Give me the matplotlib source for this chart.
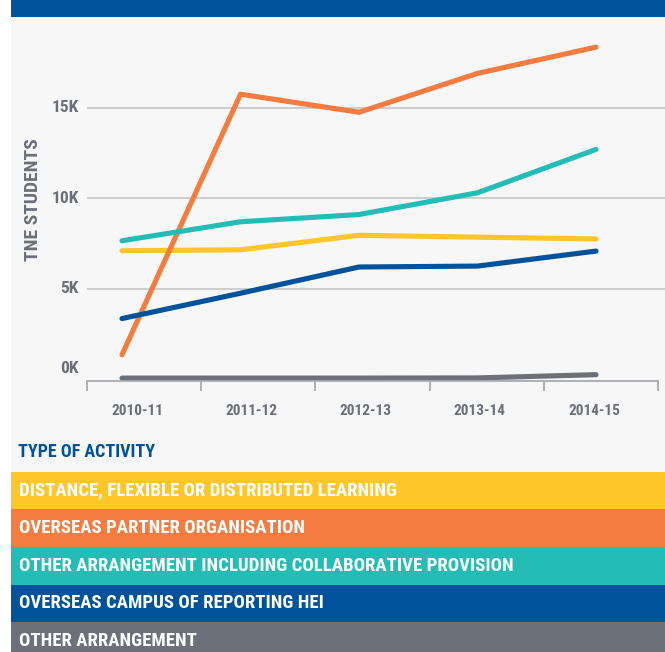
import matplotlib
matplotlib.use("Agg")
import matplotlib.pyplot as plt
import matplotlib.transforms as mtransforms
from matplotlib import font_manager
from matplotlib.patches import Rectangle

# --- data ---
years = ["2010-11", "2011-12", "2012-13", "2013-14", "2014-15"]
series_names = [
    "DISTANCE, FLEXIBLE OR DISTRIBUTED LEARNING",
    "OVERSEAS PARTNER ORGANISATION",
    "OTHER ARRANGEMENT INCLUDING COLLABORATIVE PROVISION",
    "OVERSEAS CAMPUS OF REPORTING HEI",
    "OTHER ARRANGEMENT",
]
distance = [7100, 7150, 7950, 7850, 7750]
partner = [1350, 15750, 14750, 16900, 18350]
collaborative = [7650, 8700, 9100, 10300, 12700]
campus = [3350, 4750, 6200, 6250, 7080]
other = [60, 60, 60, 70, 250]
series_values = [distance, partner, collaborative, campus, other]
colors = ["#fec62b", "#f47c40", "#24bdb6", "#00539b", "#6b7079"]
y_ticks = [0, 5000, 10000, 15000]
y_tick_labels = ["0K", "5K", "10K", "15K"]
y_title = "TNE STUDENTS"
legend_title = "TYPE OF ACTIVITY"

# pick a condensed bold face if one is installed
names = {f.name for f in font_manager.fontManager.ttflist}
font = "DejaVu Sans"
for cand in ["Roboto Condensed", "Liberation Sans Narrow", "Noto Sans Condensed",
             "DejaVu Sans Condensed", "Open Sans Condensed", "Noto Sans ExtraCondensed"]:
    if cand in names:
        font = cand
        break
plt.rcParams["font.family"] = [font, "DejaVu Sans"]

W, H = 665, 652
fig = plt.figure(figsize=(W / 100, H / 100), dpi=100)
fig.patch.set_facecolor("white")

# full-figure layer in pixel coords for background, banner and legend
bg = fig.add_axes([0, 0, 1, 1], zorder=0)
bg.set_xlim(0, W)
bg.set_ylim(H, 0)
bg.axis("off")
bg.add_patch(Rectangle((11, 0), W - 11, H, color="#f7f7f7", lw=0))
bg.add_patch(Rectangle((11, 0), W - 11, 17, color="#00529b", lw=0))

grey_txt = "#6b6f78"

# --- chart ---
ax = fig.add_axes([87 / W, 1 - 381 / H, 1 - 87 / W, (381 - 20) / H], zorder=1)
ax.patch.set_visible(False)
step = 118.5
ax.set_xlim(-(122 - 87) / step, 4 + (W - 596) / step)
ax.set_ylim(-100, 19850)

x = list(range(len(years)))
for vals, c in zip(series_values, colors):
    ax.plot(x, vals, color=c, lw=3.7, solid_capstyle="round", solid_joinstyle="round")

for t in y_ticks[1:]:
    ax.axhline(t, color="#c4c6c9", lw=1.2, zorder=0)

for s in ["top", "right", "left"]:
    ax.spines[s].set_visible(False)
ax.spines["bottom"].set_color("#a8aaad")
ax.spines["bottom"].set_linewidth(1.3)
x0 = -(122 - 87) / step
bw = 114.2 / step
ax.spines["bottom"].set_bounds(x0, x0 + 5 * bw)

ax.set_xticks([x0 + i * bw for i in range(6)])
ax.set_xticklabels([])
ax.tick_params(axis="x", length=7, width=1.3, color="#a8aaad")
for i, lab in enumerate(years):
    ax.text(x0 + (i + 0.44) * bw, -1750, lab, ha="center", va="center",
            fontsize=11, fontweight="bold", color=grey_txt)

ax.set_yticks([])
ytrans = mtransforms.blended_transform_factory(ax.transAxes, ax.transData)
for t, lab in zip(y_ticks, y_tick_labels):
    off = mtransforms.ScaledTranslation(-0.08, 0.11 if t == 0 else 0, fig.dpi_scale_trans)
    ax.text(0, t, lab, transform=ytrans + off, ha="right", va="center",
            fontsize=12.5, fontweight="bold", color=grey_txt)

bg.text(33, 200, y_title, rotation=90, ha="center", va="center",
        fontsize=14, fontweight="bold", color=grey_txt)

# --- legend bands ---
bg.text(18, 452, legend_title, ha="left", va="center", fontsize=13,
        fontweight="bold", color="#00529b")
band_top, band_h = 471.7, 37.6
for i, (name, c) in enumerate(zip(series_names, colors)):
    top = band_top + i * band_h
    bg.add_patch(Rectangle((11, top), W - 11, band_h, color=c, lw=0))
    bg.text(19, top + band_h / 2, name, ha="left", va="center", fontsize=13.5,
            fontweight="bold", color="white")

fig.savefig("out.png", dpi=100)
